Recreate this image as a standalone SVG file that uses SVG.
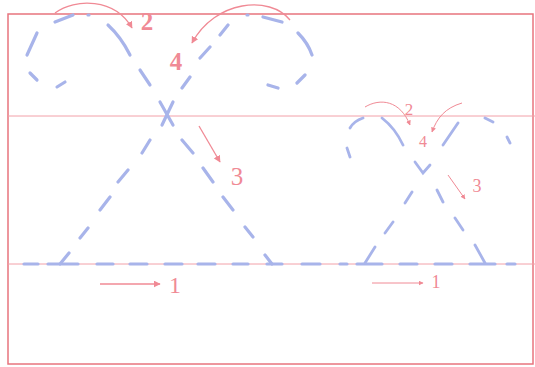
<svg xmlns="http://www.w3.org/2000/svg" width="535" height="367" viewBox="0 0 535 367">
<defs>
<style>
.g{stroke:#f2a0a8;stroke-width:1;fill:none}
.b{stroke:#a8b4ea;stroke-width:3.2;stroke-linecap:round;fill:none}
.bs{stroke:#a8b4ea;stroke-width:2.8;stroke-linecap:round;fill:none}
.a{stroke:#f08a95;stroke-width:1.3;fill:none}
.as{stroke:#f08a95;stroke-width:1;fill:none}
.t{font-family:"Liberation Serif",serif;fill:#f08a95;text-anchor:middle}
</style>
<marker id="ah" viewBox="0 0 10 10" refX="9" refY="5" markerWidth="7" markerHeight="7" orient="auto" markerUnits="userSpaceOnUse">
<path d="M0,0 L10,5 L0,10 z" fill="#f08a95"/>
</marker>
<marker id="ahs" viewBox="0 0 10 10" refX="9" refY="5" markerWidth="5" markerHeight="5" orient="auto" markerUnits="userSpaceOnUse">
<path d="M0,0 L10,5 L0,10 z" fill="#f08a95"/>
</marker>
</defs>
<rect width="535" height="367" fill="#ffffff"/>
<g id="frame">
<rect x="8" y="14" width="525" height="350" fill="none" stroke="#e8747e" stroke-width="1.5"/>
<line class="g" x1="8" y1="116" x2="535" y2="116"/>
<line class="g" x1="8" y1="264" x2="535" y2="264"/>
</g>
<g id="baseline-dashes">
<path class="b" d="M24,264H38 M48,264H78 M97,264H113 M130,264H147 M165,264H182 M198,264H215 M233,264H248 M267,264H282 M302,264H320 M340,264H347 M357,264H382 M400,264H417 M435,264H452 M470,264H495 M507,264H515"/>
</g>
<g id="big-x">
<path class="b" d="M55,22 L73,15 M88,15 L89,15 M108,25 Q121,37 130,55 M140,70 L150,85 M37,33 L27,55 M30,73 L37,80 M57,87 L65,82"/>
<path class="b" d="M182,88 L190,77 M200,58 L210,47 M220,35 L228,25 M247,15 L248,15 M263,17 L282,22 M298,33 Q308,43 312,55 M305,75 L297,83 M268,85 L278,88"/>
<path class="b" d="M160,102 L173,125 M173,102 L162,125"/>
<path class="b" d="M150,140 L142,153 M128,170 L118,182 M110,197 L100,210 M88,228 L80,238 M69,253 L60,264"/>
<path class="b" d="M182,140 L193,153 M203,168 L213,182 M223,197 L233,210 M245,227 L253,237 M265,255 L272,264"/>
</g>
<g id="small-x">
<path class="bs" d="M415,162 L423,173 L430,165"/>
<path class="bs" d="M412,192 L405,203 M393,222 L385,233 M375,247 L365,263"/>
<path class="bs" d="M437,190 L443,202 M455,218 L463,230 M475,245 L485,263"/>
<path class="bs" d="M350,128 Q354,121 363,118 M382,118 Q395,128 403,145 M347,148 L350,157 M443,145 L458,123 M485,118 L493,122 M507,137 L510,143"/>
</g>
<g id="arrows">
<path class="a" d="M55,13 C75,-2 115,-2 132,28" marker-end="url(#ah)"/>
<path class="a" d="M290,20 C270,-5 215,0 192,43" marker-end="url(#ah)"/>
<path class="a" d="M199,126 L220,162" marker-end="url(#ah)"/>
<path class="a" d="M100,284 L160,284" marker-end="url(#ah)"/>
<path class="as" d="M365,107 C380,98 400,100 410,125" marker-end="url(#ahs)"/>
<path class="as" d="M462,103 C445,108 437,118 432,132" marker-end="url(#ahs)"/>
<path class="as" d="M448,175 L465,199" marker-end="url(#ahs)"/>
<path class="as" d="M372,283 L423,283" marker-end="url(#ahs)"/>
</g>
<g id="labels">
<text class="t" x="147" y="30" font-size="25" font-weight="bold">2</text>
<text class="t" x="176" y="70" font-size="25" font-weight="bold">4</text>
<text class="t" x="237" y="185" font-size="25">3</text>
<text class="t" x="175" y="293" font-size="24">1</text>
<text class="t" x="409" y="115" font-size="17">2</text>
<text class="t" x="423" y="147" font-size="16">4</text>
<text class="t" x="477" y="192" font-size="18">3</text>
<text class="t" x="436" y="288" font-size="18">1</text>
</g>
</svg>
